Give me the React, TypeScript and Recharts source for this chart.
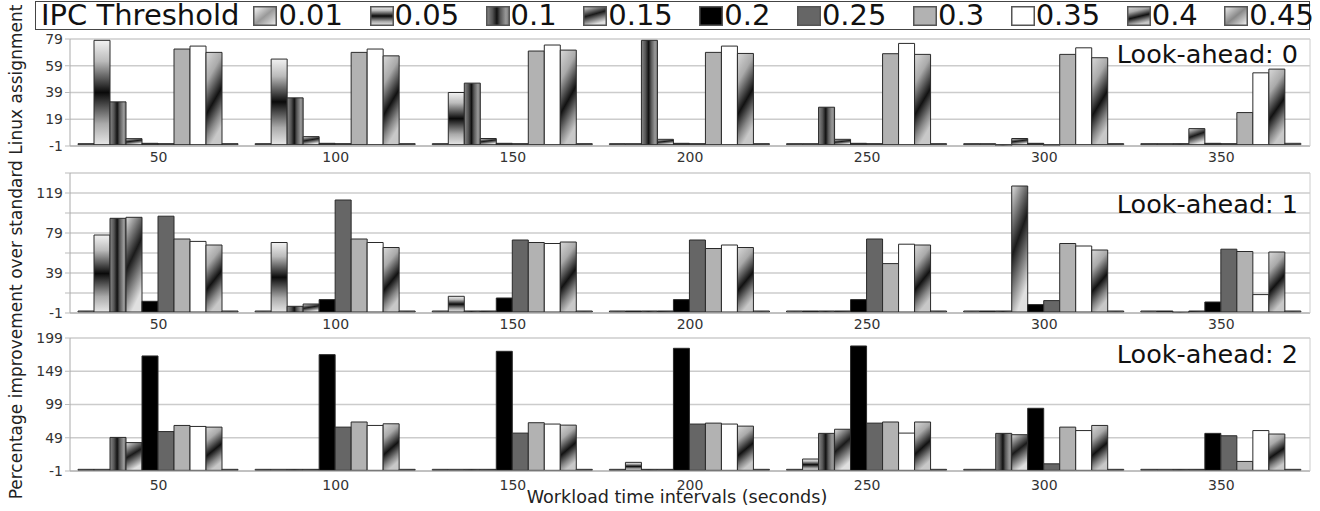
import { BarChart, Bar, XAxis, YAxis, CartesianGrid } from 'recharts'

const categories = ['50', '100', '150', '200', '250', '300', '350']
const thresholds = ['0.01', '0.05', '0.1', '0.15', '0.2', '0.25', '0.3', '0.35', '0.4', '0.45']

// one row per IPC threshold, one column per workload interval
const lookAhead0 = [
  [0, 0, 0, 0, 0, 0, 0],
  [78, 64, 39, 0, 0, 0, 0],
  [32, 35, 46, 78, 28, -1, 0],
  [4.5, 6, 4.6, 4, 4, 4.6, 12],
  [1, 1, 1, 1, 1, 1, 1],
  [0, 0, 0, 0, 0, -1, 0],
  [71.5, 69, 70, 69, 68, 67.5, 24],
  [73.7, 71.5, 74.5, 73.7, 75.7, 72.4, 53.7],
  [69, 66.4, 70.7, 68.2, 67.5, 65, 56.5],
  [0, 0, 0, 0, 0, 0, 1],
]

const lookAhead1 = [
  [0, 0, 0, 0, 0, 0, 0],
  [77, 69.5, 15.7, 0, 0, 0, 0],
  [93.7, 5.7, 0, 0, 0, 0, -1],
  [94.7, 8, 0, 0, 0, 126, 0],
  [10.7, 12.4, 14, 12.4, 12.4, 7.4, 10],
  [95.8, 112, 72, 72, 73, 11.4, 62.8],
  [73, 73, 69.5, 63.5, 48.4, 68.5, 60.5],
  [70.6, 69.5, 68.5, 67, 67.8, 66, 17.4],
  [67, 64.5, 70, 64.5, 67, 62, 60],
  [0, 0, 0, 0, 0, 0, 0],
]

const lookAhead2 = [
  [0, 0, 0, 0, 0, 0, 0],
  [0, 0, 0, 12, 17, 0, 0],
  [49.5, 0, 0, 0, 55.6, 55.6, 0],
  [41.7, 0, 0, 0, 61.8, 53.6, 0],
  [172, 174, 179, 183.5, 187, 93.3, 55.6],
  [58.3, 65, 56, 69.6, 71, 9.8, 52],
  [67.5, 72.7, 71.6, 71, 72.7, 65, 13.4],
  [66, 67.5, 69.6, 69.6, 56, 59.8, 59.8],
  [65, 70, 68, 66.5, 72.7, 67.5, 54.6],
  [0, 0, 0, 0, 0, 0, 0],
]

const ticks0 = [-1, 19, 39, 59, 79]
const ticks1 = [-1, 19, 39, 59, 79, 99, 119, 139]
const ticks1Labelled = [-1, 39, 79, 119]
const ticks2 = [-1, 49, 99, 149, 199]

const fills = [
  'url(#ipc0)',
  'url(#ipc1)',
  'url(#ipc2)',
  'url(#ipc3)',
  '#000000',
  '#666666',
  '#b2b2b2',
  '#ffffff',
  'url(#ipc8)',
  'url(#ipc9)',
]

const FONT = '"DejaVu Sans", Verdana, sans-serif'

function toRows(values: number[][]) {
  return categories.map((cat, i) => {
    const row: Record<string, string | number> = { cat }
    thresholds.forEach((_, k) => {
      row['t' + k] = values[k][i]
    })
    return row
  })
}

function Gradients() {
  return (
    <svg width={0} height={0} style={{ position: 'absolute' }}>
      <defs>
        <linearGradient id="ipc0" x1="0" y1="0" x2="1" y2="1">
          <stop offset="0" stopColor="#fafafa" />
          <stop offset="0.5" stopColor="#999" />
          <stop offset="1" stopColor="#eee" />
        </linearGradient>
        <linearGradient id="ipc1" x1="0" y1="0" x2="0" y2="1">
          <stop offset="0" stopColor="#f2f2f2" />
          <stop offset="0.2" stopColor="#bbb" />
          <stop offset="0.5" stopColor="#0a0a0a" />
          <stop offset="0.8" stopColor="#aaa" />
          <stop offset="1" stopColor="#e6e6e6" />
        </linearGradient>
        <linearGradient id="ipc2" x1="0" y1="0" x2="1" y2="0">
          <stop offset="0" stopColor="#888" />
          <stop offset="0.25" stopColor="#555" />
          <stop offset="0.45" stopColor="#111" />
          <stop offset="0.6" stopColor="#555" />
          <stop offset="0.85" stopColor="#999" />
          <stop offset="1" stopColor="#777" />
        </linearGradient>
        <linearGradient id="ipc3" x1="0" y1="0" x2="0.35" y2="1">
          <stop offset="0" stopColor="#e0e0e0" />
          <stop offset="0.5" stopColor="#1a1a1a" />
          <stop offset="1" stopColor="#e0e0e0" />
        </linearGradient>
        <linearGradient id="ipc8" x1="0" y1="0" x2="0.3" y2="1">
          <stop offset="0" stopColor="#d8d8d8" />
          <stop offset="0.3" stopColor="#aaa" />
          <stop offset="0.62" stopColor="#111" />
          <stop offset="0.85" stopColor="#888" />
          <stop offset="1" stopColor="#c8c8c8" />
        </linearGradient>
        <linearGradient id="ipc9" x1="0" y1="0" x2="1" y2="1">
          <stop offset="0" stopColor="#eee" />
          <stop offset="0.5" stopColor="#888" />
          <stop offset="1" stopColor="#f5f5f5" />
        </linearGradient>
      </defs>
    </svg>
  )
}

interface PanelProps {
  values: number[][]
  top: number
  height: number
  domain: [number, number]
  ticks: number[]
  labelled?: number[]
  tickMargin: number
  title: string
  titleTop: number
}

function Panel({ values, top, height, domain, ticks, labelled, tickMargin, title, titleTop }: PanelProps) {
  return (
    <>
      <div style={{ position: 'absolute', left: 0, top }}>
        <BarChart
          width={1320}
          height={height}
          data={toRows(values)}
          margin={{ top: 5, right: 9, left: 0, bottom: 0 }}
          barCategoryGap={8}
          barGap={0}
        >
          <CartesianGrid vertical={false} stroke="#cccccc" strokeWidth={1.5} />
          <XAxis
            dataKey="cat"
            interval={0}
            height={24}
            tickLine={false}
            tickMargin={tickMargin}
            axisLine={{ stroke: '#aaaaaa' }}
            tick={{ fontSize: 14, fill: '#333', fontFamily: FONT }}
          />
          <YAxis
            width={70}
            domain={domain}
            ticks={ticks}
            interval={0}
            allowDataOverflow
            tickSize={5}
            tickLine={{ stroke: '#bbbbbb' }}
            axisLine={{ stroke: '#aaaaaa' }}
            tick={{ fontSize: 14, fill: '#333', fontFamily: FONT }}
            tickFormatter={(v: number) => (labelled && !labelled.includes(v) ? '' : String(v))}
          />
          <YAxis
            yAxisId="frame"
            orientation="right"
            width={1}
            type="number"
            domain={[0, 1]}
            tick={false}
            tickLine={false}
            axisLine={{ stroke: '#cccccc' }}
          />
          {thresholds.map((t, k) => (
            <Bar
              key={t}
              dataKey={'t' + k}
              name={t}
              fill={fills[k]}
              stroke="#2a2a2a"
              strokeWidth={1}
              minPointSize={1}
              isAnimationActive={false}
            />
          ))}
        </BarChart>
      </div>
      <div
        style={{
          position: 'absolute',
          right: 1320 - 1298,
          top: titleTop,
          fontSize: 25.5,
          lineHeight: '26px',
          color: '#111',
          whiteSpace: 'nowrap',
        }}
      >
        {title}
      </div>
    </>
  )
}

function Legend() {
  return (
    <div
      style={{
        position: 'absolute',
        left: 35,
        top: 1,
        width: 1273,
        height: 27,
        border: '1.5px solid #444',
        display: 'flex',
        alignItems: 'center',
        fontSize: 29,
        lineHeight: '27px',
        color: '#111',
        whiteSpace: 'nowrap',
      }}
    >
      <span style={{ marginLeft: 5, marginRight: 14 }}>IPC Threshold</span>
      {thresholds.map((t, k) => (
        <span key={t} style={{ display: 'flex', alignItems: 'center', marginRight: 26.5 }}>
          <svg width={24} height={20} style={{ marginRight: 1 }}>
            <rect x={0.75} y={0.75} width={22.5} height={18.5} fill={fills[k]} stroke="#555" strokeWidth={1.5} />
          </svg>
          {t}
        </span>
      ))}
    </div>
  )
}

export default function App() {
  return (
    <div
      style={{
        position: 'absolute',
        left: 0,
        top: 0,
        width: 1320,
        height: 511,
        background: '#fff',
        fontFamily: FONT,
        overflow: 'hidden',
      }}
    >
      <Gradients />
      <Legend />
      <Panel
        values={lookAhead0}
        top={34}
        height={136}
        domain={[-1, 79]}
        ticks={ticks0}
        tickMargin={0}
        title="Look-ahead: 0"
        titleTop={41}
      />
      <Panel
        values={lookAhead1}
        top={168}
        height={169}
        domain={[-1, 139]}
        ticks={ticks1}
        labelled={ticks1Labelled}
        tickMargin={0}
        title="Look-ahead: 1"
        titleTop={191}
      />
      <Panel
        values={lookAhead2}
        top={333}
        height={162}
        domain={[-1, 199]}
        ticks={ticks2}
        tickMargin={3}
        title="Look-ahead: 2"
        titleTop={341}
      />
      <div
        style={{
          position: 'absolute',
          left: 677,
          top: 488,
          transform: 'translateX(-50%)',
          fontSize: 17.6,
          lineHeight: '18px',
          color: '#222',
          whiteSpace: 'nowrap',
        }}
      >
        Workload time intervals (seconds)
      </div>
      <div
        style={{
          position: 'absolute',
          left: 16,
          top: 252,
          transform: 'translate(-50%, -50%) rotate(-90deg)',
          fontSize: 17,
          lineHeight: '20px',
          color: '#222',
          whiteSpace: 'nowrap',
        }}
      >
        Percentage improvement over standard Linux assignment
      </div>
    </div>
  )
}
